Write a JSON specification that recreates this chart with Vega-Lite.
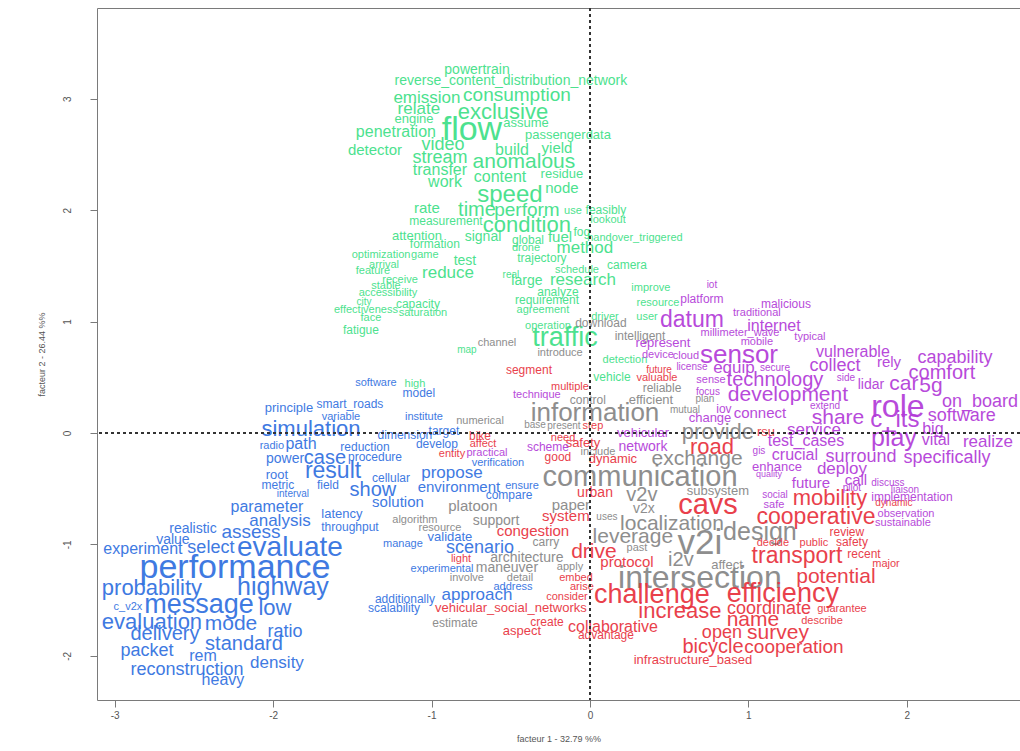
{
  "$schema": "https://vega.github.io/schema/vega-lite/v6.json",
  "width": 923,
  "height": 692,
  "autosize": {"type": "none"},
  "padding": {"left": 97, "top": 8, "right": 0, "bottom": 51},
  "background": "white",
  "config": {
    "view": {"stroke": "#7a7a7a", "strokeWidth": 1},
    "axis": {"grid": false, "domain": false, "labelFont": "Liberation Sans", "titleFont": "Liberation Sans", "labelColor": "#555555", "titleColor": "#555555", "tickColor": "#7a7a7a", "labelFontSize": 10, "titleFontSize": 9, "titleFontWeight": "normal", "tickSize": 7}
  },
  "data": {"values": [
    {"w":"powertrain","x":-0.713,"y":3.259,"s":14,"c":"g"},
    {"w":"reverse_content_distribution_network","x":-0.499,"y":3.160,"s":14,"c":"g"},
    {"w":"emission","x":-1.029,"y":3.007,"s":17,"c":"g"},
    {"w":"consumption","x":-0.461,"y":3.034,"s":19,"c":"g"},
    {"w":"relate","x":-1.080,"y":2.908,"s":17,"c":"g"},
    {"w":"exclusive","x":-0.549,"y":2.882,"s":22,"c":"g"},
    {"w":"engine","x":-1.111,"y":2.819,"s":13,"c":"g"},
    {"w":"flow","x":-0.745,"y":2.720,"s":34,"c":"g"},
    {"w":"assume","x":-0.404,"y":2.783,"s":13,"c":"g"},
    {"w":"penetration","x":-1.225,"y":2.702,"s":16,"c":"g"},
    {"w":"passengerdata","x":-0.139,"y":2.675,"s":13,"c":"g"},
    {"w":"detector","x":-1.357,"y":2.540,"s":15,"c":"g"},
    {"w":"video","x":-0.928,"y":2.585,"s":18,"c":"g"},
    {"w":"build","x":-0.492,"y":2.540,"s":16,"c":"g"},
    {"w":"yield","x":-0.208,"y":2.558,"s":15,"c":"g"},
    {"w":"stream","x":-0.947,"y":2.469,"s":18,"c":"g"},
    {"w":"anomalous","x":-0.417,"y":2.433,"s":21,"c":"g"},
    {"w":"transfer","x":-0.947,"y":2.361,"s":16,"c":"g"},
    {"w":"content","x":-0.568,"y":2.298,"s":16,"c":"g"},
    {"w":"residue","x":-0.177,"y":2.325,"s":13,"c":"g"},
    {"w":"work","x":-0.915,"y":2.253,"s":16,"c":"g"},
    {"w":"node","x":-0.177,"y":2.199,"s":15,"c":"g"},
    {"w":"speed","x":-0.505,"y":2.136,"s":24,"c":"g"},
    {"w":"rate","x":-1.029,"y":2.020,"s":15,"c":"g"},
    {"w":"time","x":-0.713,"y":2.002,"s":20,"c":"g"},
    {"w":"perform","x":-0.398,"y":2.002,"s":19,"c":"g"},
    {"w":"use","x":-0.107,"y":1.993,"s":11,"c":"g"},
    {"w":"feasibly","x":0.101,"y":2.002,"s":12,"c":"g"},
    {"w":"measurement","x":-0.909,"y":1.903,"s":12,"c":"g"},
    {"w":"condition","x":-0.398,"y":1.867,"s":22,"c":"g"},
    {"w":"lookout","x":0.114,"y":1.912,"s":11,"c":"g"},
    {"w":"attention","x":-1.092,"y":1.768,"s":13,"c":"g"},
    {"w":"signal","x":-0.675,"y":1.759,"s":14,"c":"g"},
    {"w":"global","x":-0.391,"y":1.733,"s":12,"c":"g"},
    {"w":"fuel","x":-0.189,"y":1.759,"s":15,"c":"g"},
    {"w":"fog","x":-0.051,"y":1.804,"s":12,"c":"g"},
    {"w":"handover_triggered","x":0.284,"y":1.750,"s":11,"c":"g"},
    {"w":"formation","x":-0.979,"y":1.697,"s":12,"c":"g"},
    {"w":"drone","x":-0.404,"y":1.661,"s":11,"c":"g"},
    {"w":"method","x":-0.032,"y":1.661,"s":17,"c":"g"},
    {"w":"optimization","x":-1.319,"y":1.598,"s":11,"c":"g"},
    {"w":"game","x":-1.042,"y":1.598,"s":11,"c":"g"},
    {"w":"test","x":-0.789,"y":1.544,"s":14,"c":"g"},
    {"w":"trajectory","x":-0.303,"y":1.571,"s":12,"c":"g"},
    {"w":"arrival","x":-1.300,"y":1.508,"s":11,"c":"g"},
    {"w":"feature","x":-1.370,"y":1.454,"s":11,"c":"g"},
    {"w":"reduce","x":-0.896,"y":1.436,"s":17,"c":"g"},
    {"w":"camera","x":0.234,"y":1.508,"s":12,"c":"g"},
    {"w":"schedule","x":-0.082,"y":1.463,"s":11,"c":"g"},
    {"w":"real","x":-0.499,"y":1.418,"s":10,"c":"g"},
    {"w":"receive","x":-1.199,"y":1.373,"s":11,"c":"g"},
    {"w":"large","x":-0.398,"y":1.364,"s":14,"c":"g"},
    {"w":"research","x":-0.044,"y":1.373,"s":17,"c":"g"},
    {"w":"stable","x":-1.288,"y":1.320,"s":11,"c":"g"},
    {"w":"accessibility","x":-1.275,"y":1.257,"s":11,"c":"g"},
    {"w":"analyze","x":-0.202,"y":1.266,"s":12,"c":"g"},
    {"w":"requirement","x":-0.271,"y":1.194,"s":12,"c":"g"},
    {"w":"city","x":-1.427,"y":1.176,"s":10,"c":"g"},
    {"w":"capacity","x":-1.086,"y":1.158,"s":12,"c":"g"},
    {"w":"effectiveness","x":-1.414,"y":1.104,"s":11,"c":"g"},
    {"w":"saturation","x":-1.054,"y":1.077,"s":11,"c":"g"},
    {"w":"agreement","x":-0.297,"y":1.104,"s":11,"c":"g"},
    {"w":"face","x":-1.383,"y":1.032,"s":11,"c":"g"},
    {"w":"fatigue","x":-1.446,"y":0.925,"s":12,"c":"g"},
    {"w":"driver","x":0.095,"y":1.041,"s":11,"c":"g"},
    {"w":"user","x":0.360,"y":1.041,"s":11,"c":"g"},
    {"w":"operation","x":-0.265,"y":0.961,"s":11,"c":"g"},
    {"w":"traffic","x":-0.158,"y":0.853,"s":27,"c":"g"},
    {"w":"map","x":-0.777,"y":0.745,"s":10,"c":"g"},
    {"w":"detection","x":0.221,"y":0.655,"s":11,"c":"g"},
    {"w":"vehicle","x":0.139,"y":0.503,"s":12,"c":"g"},
    {"w":"improve","x":0.385,"y":1.302,"s":11,"c":"g"},
    {"w":"resource","x":0.429,"y":1.167,"s":11,"c":"g"},
    {"w":"high","x":-1.105,"y":0.440,"s":11,"c":"g"},

    {"w":"download","x":0.069,"y":0.987,"s":12,"c":"k"},
    {"w":"intelligent","x":0.316,"y":0.871,"s":12,"c":"k"},
    {"w":"channel","x":-0.587,"y":0.808,"s":11,"c":"k"},
    {"w":"introduce","x":-0.189,"y":0.718,"s":11,"c":"k"},
    {"w":"reliable","x":0.455,"y":0.404,"s":12,"c":"k"},
    {"w":"control","x":-0.013,"y":0.296,"s":12,"c":"k"},
    {"w":"efficient","x":0.385,"y":0.296,"s":13,"c":"k"},
    {"w":"mutual","x":0.600,"y":0.206,"s":10,"c":"k"},
    {"w":"plan","x":0.726,"y":0.305,"s":10,"c":"k"},
    {"w":"information","x":0.032,"y":0.180,"s":26,"c":"k"},
    {"w":"present","x":-0.164,"y":0.063,"s":10,"c":"k"},
    {"w":"base","x":-0.347,"y":0.072,"s":10,"c":"k"},
    {"w":"numerical","x":-0.694,"y":0.108,"s":11,"c":"k"},
    {"w":"include","x":0.051,"y":-0.171,"s":11,"c":"k"},
    {"w":"provide","x":0.808,"y":0.009,"s":22,"c":"k"},
    {"w":"exchange","x":0.676,"y":-0.233,"s":21,"c":"k"},
    {"w":"communication","x":0.316,"y":-0.395,"s":29,"c":"k"},
    {"w":"subsystem","x":0.808,"y":-0.521,"s":13,"c":"k"},
    {"w":"v2v","x":0.328,"y":-0.557,"s":20,"c":"k"},
    {"w":"v2x","x":0.341,"y":-0.682,"s":14,"c":"k"},
    {"w":"paper","x":-0.120,"y":-0.646,"s":15,"c":"k"},
    {"w":"uses","x":0.107,"y":-0.754,"s":10,"c":"k"},
    {"w":"localization","x":0.518,"y":-0.817,"s":21,"c":"k"},
    {"w":"leverage","x":0.271,"y":-0.934,"s":21,"c":"k"},
    {"w":"design","x":1.073,"y":-0.889,"s":25,"c":"k"},
    {"w":"v2i","x":0.694,"y":-0.987,"s":35,"c":"k"},
    {"w":"past","x":0.297,"y":-1.032,"s":11,"c":"k"},
    {"w":"i2v","x":0.574,"y":-1.140,"s":20,"c":"k"},
    {"w":"affect","x":0.865,"y":-1.185,"s":13,"c":"k"},
    {"w":"intersection","x":0.694,"y":-1.302,"s":32,"c":"k"},
    {"w":"platoon","x":-0.739,"y":-0.655,"s":15,"c":"k"},
    {"w":"algorithm","x":-1.105,"y":-0.781,"s":11,"c":"k"},
    {"w":"support","x":-0.593,"y":-0.790,"s":14,"c":"k"},
    {"w":"resource","x":-0.947,"y":-0.853,"s":11,"c":"k"},
    {"w":"carry","x":-0.278,"y":-0.978,"s":12,"c":"k"},
    {"w":"architecture","x":-0.398,"y":-1.122,"s":14,"c":"k"},
    {"w":"maneuver","x":-0.524,"y":-1.212,"s":14,"c":"k"},
    {"w":"apply","x":-0.126,"y":-1.203,"s":11,"c":"k"},
    {"w":"involve","x":-0.777,"y":-1.302,"s":11,"c":"k"},
    {"w":"detail","x":-0.442,"y":-1.302,"s":11,"c":"k"},
    {"w":"estimate","x":-0.852,"y":-1.706,"s":12,"c":"k"},

    {"w":"segment","x":-0.385,"y":0.566,"s":12,"c":"r"},
    {"w":"multiple","x":-0.126,"y":0.413,"s":11,"c":"r"},
    {"w":"future","x":0.436,"y":0.566,"s":10,"c":"r"},
    {"w":"valuable","x":0.423,"y":0.494,"s":11,"c":"r"},
    {"w":"step","x":0.019,"y":0.063,"s":11,"c":"r"},
    {"w":"need","x":-0.170,"y":-0.045,"s":11,"c":"r"},
    {"w":"safety","x":-0.044,"y":-0.090,"s":13,"c":"r"},
    {"w":"good","x":-0.202,"y":-0.215,"s":12,"c":"r"},
    {"w":"dynamic","x":0.145,"y":-0.233,"s":13,"c":"r"},
    {"w":"rsu","x":1.111,"y":0.009,"s":13,"c":"r"},
    {"w":"road","x":0.770,"y":-0.126,"s":22,"c":"r"},
    {"w":"bike","x":-0.694,"y":-0.027,"s":12,"c":"r"},
    {"w":"affect","x":-0.675,"y":-0.099,"s":11,"c":"r"},
    {"w":"entity","x":-0.871,"y":-0.189,"s":11,"c":"r"},
    {"w":"urban","x":0.032,"y":-0.539,"s":14,"c":"r"},
    {"w":"system","x":-0.152,"y":-0.745,"s":15,"c":"r"},
    {"w":"cavs","x":0.745,"y":-0.646,"s":29,"c":"r"},
    {"w":"mobility","x":1.515,"y":-0.583,"s":22,"c":"r"},
    {"w":"dynamic","x":1.919,"y":-0.628,"s":10,"c":"r"},
    {"w":"cooperative","x":1.427,"y":-0.754,"s":23,"c":"r"},
    {"w":"congestion","x":-0.360,"y":-0.880,"s":15,"c":"r"},
    {"w":"drive","x":0.025,"y":-1.068,"s":21,"c":"r"},
    {"w":"protocol","x":0.234,"y":-1.158,"s":15,"c":"r"},
    {"w":"decide","x":1.155,"y":-0.987,"s":11,"c":"r"},
    {"w":"public","x":1.414,"y":-0.987,"s":11,"c":"r"},
    {"w":"safety","x":1.654,"y":-0.978,"s":12,"c":"r"},
    {"w":"transport","x":1.307,"y":-1.104,"s":23,"c":"r"},
    {"w":"recent","x":1.730,"y":-1.086,"s":12,"c":"r"},
    {"w":"major","x":1.869,"y":-1.176,"s":11,"c":"r"},
    {"w":"potential","x":1.553,"y":-1.293,"s":21,"c":"r"},
    {"w":"challenge","x":0.391,"y":-1.454,"s":27,"c":"r"},
    {"w":"efficiency","x":1.218,"y":-1.445,"s":27,"c":"r"},
    {"w":"increase","x":0.568,"y":-1.598,"s":22,"c":"r"},
    {"w":"coordinate","x":1.130,"y":-1.580,"s":18,"c":"r"},
    {"w":"guarantee","x":1.591,"y":-1.580,"s":11,"c":"r"},
    {"w":"name","x":1.029,"y":-1.679,"s":21,"c":"r"},
    {"w":"describe","x":1.465,"y":-1.688,"s":11,"c":"r"},
    {"w":"collaborative","x":0.145,"y":-1.741,"s":16,"c":"r"},
    {"w":"advantage","x":0.101,"y":-1.813,"s":12,"c":"r"},
    {"w":"open","x":0.833,"y":-1.795,"s":18,"c":"r"},
    {"w":"survey","x":1.187,"y":-1.795,"s":21,"c":"r"},
    {"w":"bicycle","x":0.777,"y":-1.921,"s":20,"c":"r"},
    {"w":"cooperation","x":1.288,"y":-1.921,"s":19,"c":"r"},
    {"w":"infrastructure_based","x":0.650,"y":-2.038,"s":13,"c":"r"},
    {"w":"light","x":-0.814,"y":-1.131,"s":11,"c":"r"},
    {"w":"embed","x":-0.088,"y":-1.302,"s":11,"c":"r"},
    {"w":"arise","x":-0.051,"y":-1.382,"s":11,"c":"r"},
    {"w":"consider","x":-0.145,"y":-1.472,"s":11,"c":"r"},
    {"w":"vehicular_social_networks","x":-0.499,"y":-1.571,"s":13,"c":"r"},
    {"w":"create","x":-0.271,"y":-1.697,"s":12,"c":"r"},
    {"w":"aspect","x":-0.429,"y":-1.777,"s":13,"c":"r"},
    {"w":"review","x":1.622,"y":-0.889,"s":12,"c":"r"},

    {"w":"iot","x":0.770,"y":1.329,"s":10,"c":"p"},
    {"w":"platform","x":0.707,"y":1.203,"s":12,"c":"p"},
    {"w":"malicious","x":1.237,"y":1.158,"s":12,"c":"p"},
    {"w":"traditional","x":1.054,"y":1.077,"s":11,"c":"p"},
    {"w":"datum","x":0.644,"y":1.014,"s":23,"c":"p"},
    {"w":"internet","x":1.162,"y":0.961,"s":16,"c":"p"},
    {"w":"millimeter_wave","x":0.947,"y":0.898,"s":11,"c":"p"},
    {"w":"typical","x":1.389,"y":0.862,"s":11,"c":"p"},
    {"w":"represent","x":0.461,"y":0.808,"s":13,"c":"p"},
    {"w":"mobile","x":1.054,"y":0.817,"s":11,"c":"p"},
    {"w":"sensor","x":0.941,"y":0.700,"s":26,"c":"p"},
    {"w":"device","x":0.429,"y":0.700,"s":11,"c":"p"},
    {"w":"cloud","x":0.606,"y":0.691,"s":11,"c":"p"},
    {"w":"vulnerable","x":1.660,"y":0.727,"s":16,"c":"p"},
    {"w":"capability","x":2.304,"y":0.673,"s":18,"c":"p"},
    {"w":"license","x":0.644,"y":0.592,"s":10,"c":"p"},
    {"w":"equip","x":0.909,"y":0.583,"s":17,"c":"p"},
    {"w":"secure","x":1.168,"y":0.583,"s":10,"c":"p"},
    {"w":"collect","x":1.547,"y":0.601,"s":18,"c":"p"},
    {"w":"rely","x":1.888,"y":0.637,"s":15,"c":"p"},
    {"w":"comfort","x":2.222,"y":0.539,"s":20,"c":"p"},
    {"w":"sense","x":0.764,"y":0.476,"s":11,"c":"p"},
    {"w":"technology","x":1.168,"y":0.476,"s":20,"c":"p"},
    {"w":"side","x":1.616,"y":0.494,"s":10,"c":"p"},
    {"w":"lidar","x":1.774,"y":0.431,"s":14,"c":"p"},
    {"w":"car","x":1.982,"y":0.440,"s":21,"c":"p"},
    {"w":"5g","x":2.153,"y":0.422,"s":21,"c":"p"},
    {"w":"focus","x":0.745,"y":0.368,"s":10,"c":"p"},
    {"w":"development","x":1.250,"y":0.341,"s":21,"c":"p"},
    {"w":"on_board","x":2.462,"y":0.278,"s":18,"c":"p"},
    {"w":"role","x":1.944,"y":0.233,"s":32,"c":"p"},
    {"w":"software","x":2.348,"y":0.153,"s":18,"c":"p"},
    {"w":"c_its","x":1.925,"y":0.117,"s":24,"c":"p"},
    {"w":"share","x":1.566,"y":0.135,"s":21,"c":"p"},
    {"w":"extend","x":1.484,"y":0.242,"s":10,"c":"p"},
    {"w":"iov","x":0.846,"y":0.215,"s":12,"c":"p"},
    {"w":"change","x":0.758,"y":0.135,"s":13,"c":"p"},
    {"w":"connect","x":1.073,"y":0.180,"s":15,"c":"p"},
    {"w":"big","x":2.165,"y":0.036,"s":16,"c":"p"},
    {"w":"play","x":1.919,"y":-0.045,"s":25,"c":"p"},
    {"w":"vital","x":2.184,"y":-0.063,"s":16,"c":"p"},
    {"w":"realize","x":2.513,"y":-0.081,"s":17,"c":"p"},
    {"w":"service","x":1.414,"y":0.027,"s":17,"c":"p"},
    {"w":"test_cases","x":1.364,"y":-0.072,"s":16,"c":"p"},
    {"w":"vehicular","x":0.335,"y":0.000,"s":13,"c":"p"},
    {"w":"network","x":0.335,"y":-0.126,"s":14,"c":"p"},
    {"w":"scheme","x":-0.265,"y":-0.126,"s":12,"c":"p"},
    {"w":"technique","x":-0.335,"y":0.341,"s":11,"c":"p"},
    {"w":"crucial","x":1.294,"y":-0.197,"s":16,"c":"p"},
    {"w":"surround","x":1.711,"y":-0.215,"s":18,"c":"p"},
    {"w":"specifically","x":2.254,"y":-0.224,"s":18,"c":"p"},
    {"w":"gis","x":1.067,"y":-0.162,"s":10,"c":"p"},
    {"w":"enhance","x":1.181,"y":-0.305,"s":13,"c":"p"},
    {"w":"quality","x":1.130,"y":-0.368,"s":9,"c":"p"},
    {"w":"deploy","x":1.591,"y":-0.323,"s":17,"c":"p"},
    {"w":"future","x":1.395,"y":-0.449,"s":15,"c":"p"},
    {"w":"call","x":1.679,"y":-0.422,"s":15,"c":"p"},
    {"w":"pilot","x":1.654,"y":-0.494,"s":10,"c":"p"},
    {"w":"discuss","x":1.881,"y":-0.449,"s":10,"c":"p"},
    {"w":"social","x":1.168,"y":-0.557,"s":10,"c":"p"},
    {"w":"liaison","x":1.989,"y":-0.512,"s":10,"c":"p"},
    {"w":"implementation","x":2.033,"y":-0.575,"s":12,"c":"p"},
    {"w":"safe","x":1.162,"y":-0.646,"s":11,"c":"p"},
    {"w":"observation","x":1.995,"y":-0.727,"s":11,"c":"p"},
    {"w":"sustainable","x":1.976,"y":-0.808,"s":11,"c":"p"},
    {"w":"practical","x":-0.650,"y":-0.180,"s":11,"c":"p"},

    {"w":"software","x":-1.351,"y":0.449,"s":11,"c":"b"},
    {"w":"model","x":-1.080,"y":0.359,"s":12,"c":"b"},
    {"w":"principle","x":-1.900,"y":0.224,"s":13,"c":"b"},
    {"w":"smart_roads","x":-1.515,"y":0.260,"s":12,"c":"b"},
    {"w":"variable","x":-1.572,"y":0.144,"s":11,"c":"b"},
    {"w":"institute","x":-1.048,"y":0.144,"s":11,"c":"b"},
    {"w":"simulation","x":-1.761,"y":0.036,"s":22,"c":"b"},
    {"w":"dimension","x":-1.168,"y":-0.018,"s":12,"c":"b"},
    {"w":"target","x":-0.922,"y":0.018,"s":12,"c":"b"},
    {"w":"radio","x":-2.008,"y":-0.117,"s":11,"c":"b"},
    {"w":"path","x":-1.824,"y":-0.099,"s":16,"c":"b"},
    {"w":"reduction","x":-1.420,"y":-0.126,"s":12,"c":"b"},
    {"w":"develop","x":-0.966,"y":-0.099,"s":12,"c":"b"},
    {"w":"power","x":-1.925,"y":-0.233,"s":14,"c":"b"},
    {"w":"case","x":-1.673,"y":-0.224,"s":20,"c":"b"},
    {"w":"procedure","x":-1.357,"y":-0.215,"s":12,"c":"b"},
    {"w":"result","x":-1.622,"y":-0.341,"s":23,"c":"b"},
    {"w":"root","x":-1.976,"y":-0.377,"s":13,"c":"b"},
    {"w":"cellular","x":-1.256,"y":-0.404,"s":12,"c":"b"},
    {"w":"propose","x":-0.871,"y":-0.359,"s":17,"c":"b"},
    {"w":"metric","x":-1.970,"y":-0.467,"s":12,"c":"b"},
    {"w":"field","x":-1.654,"y":-0.467,"s":12,"c":"b"},
    {"w":"show","x":-1.370,"y":-0.512,"s":20,"c":"b"},
    {"w":"environment","x":-0.827,"y":-0.485,"s":15,"c":"b"},
    {"w":"verification","x":-0.581,"y":-0.269,"s":11,"c":"b"},
    {"w":"ensure","x":-0.429,"y":-0.476,"s":11,"c":"b"},
    {"w":"compare","x":-0.511,"y":-0.557,"s":12,"c":"b"},
    {"w":"interval","x":-1.875,"y":-0.548,"s":10,"c":"b"},
    {"w":"solution","x":-1.212,"y":-0.619,"s":15,"c":"b"},
    {"w":"parameter","x":-2.039,"y":-0.664,"s":16,"c":"b"},
    {"w":"latency","x":-1.566,"y":-0.727,"s":13,"c":"b"},
    {"w":"throughput","x":-1.515,"y":-0.844,"s":12,"c":"b"},
    {"w":"analysis","x":-1.957,"y":-0.790,"s":17,"c":"b"},
    {"w":"realistic","x":-2.506,"y":-0.862,"s":14,"c":"b"},
    {"w":"assess","x":-2.140,"y":-0.889,"s":19,"c":"b"},
    {"w":"value","x":-2.633,"y":-0.960,"s":14,"c":"b"},
    {"w":"experiment","x":-2.822,"y":-1.041,"s":16,"c":"b"},
    {"w":"select","x":-2.393,"y":-1.032,"s":18,"c":"b"},
    {"w":"evaluate","x":-1.894,"y":-1.032,"s":28,"c":"b"},
    {"w":"performance","x":-2.241,"y":-1.212,"s":34,"c":"b"},
    {"w":"probability","x":-2.765,"y":-1.391,"s":22,"c":"b"},
    {"w":"highway","x":-1.938,"y":-1.382,"s":25,"c":"b"},
    {"w":"c_v2x","x":-2.917,"y":-1.562,"s":11,"c":"b"},
    {"w":"message","x":-2.468,"y":-1.544,"s":27,"c":"b"},
    {"w":"low","x":-1.989,"y":-1.571,"s":22,"c":"b"},
    {"w":"evaluation","x":-2.765,"y":-1.697,"s":22,"c":"b"},
    {"w":"mode","x":-2.266,"y":-1.715,"s":21,"c":"b"},
    {"w":"ratio","x":-1.925,"y":-1.786,"s":18,"c":"b"},
    {"w":"delivery","x":-2.683,"y":-1.804,"s":20,"c":"b"},
    {"w":"standard","x":-2.184,"y":-1.894,"s":20,"c":"b"},
    {"w":"packet","x":-2.797,"y":-1.957,"s":18,"c":"b"},
    {"w":"rem","x":-2.443,"y":-2.002,"s":16,"c":"b"},
    {"w":"density","x":-1.976,"y":-2.065,"s":17,"c":"b"},
    {"w":"reconstruction","x":-2.544,"y":-2.127,"s":18,"c":"b"},
    {"w":"heavy","x":-2.317,"y":-2.217,"s":16,"c":"b"},
    {"w":"validate","x":-0.884,"y":-0.934,"s":13,"c":"b"},
    {"w":"manage","x":-1.181,"y":-0.996,"s":11,"c":"b"},
    {"w":"scenario","x":-0.694,"y":-1.032,"s":18,"c":"b"},
    {"w":"experimental","x":-0.934,"y":-1.221,"s":11,"c":"b"},
    {"w":"address","x":-0.486,"y":-1.382,"s":11,"c":"b"},
    {"w":"approach","x":-0.713,"y":-1.454,"s":17,"c":"b"},
    {"w":"additionally","x":-1.168,"y":-1.490,"s":12,"c":"b"},
    {"w":"scalability","x":-1.237,"y":-1.571,"s":12,"c":"b"}
  ]},
  "layer": [
    {
      "mark": {"type": "text", "font": "Liberation Sans", "align": "center", "baseline": "middle", "opacity": 0.92},
      "encoding": {
        "x": {"field": "x", "type": "quantitative", "scale": {"domain": [-3.112, 2.715], "nice": false, "zero": false},
              "axis": {"values": [-3, -2, -1, 0, 1, 2], "labelExpr": "'' + datum.value", "title": "facteur 1 - 32.79 %%", "labelPadding": 3, "titlePadding": 14}},
        "y": {"field": "y", "type": "quantitative", "scale": {"domain": [-2.397, 3.815], "nice": false, "zero": false},
              "axis": {"values": [-2, -1, 0, 1, 2, 3], "labelExpr": "'' + datum.value", "title": "facteur 2 - 26.44 %%", "labelAngle": -90, "labelAlign": "center", "labelBaseline": "bottom", "labelPadding": 18, "titlePadding": 16}},
        "text": {"field": "w", "type": "nominal"},
        "size": {"field": "s", "type": "quantitative", "scale": {"type": "linear", "domain": [0, 40], "range": [0, 40]}, "legend": null},
        "color": {"field": "c", "type": "nominal", "scale": {"domain": ["g", "b", "k", "r", "p"], "range": ["#3ddf86", "#2f6fdf", "#858585", "#e8303c", "#b23ad8"]}, "legend": null}
      }
    },
    {
      "mark": {"type": "rule", "strokeDash": [3, 3], "color": "#333333", "strokeWidth": 1},
      "encoding": {"x": {"datum": 0}}
    },
    {
      "mark": {"type": "rule", "strokeDash": [3, 3], "color": "#333333", "strokeWidth": 1},
      "encoding": {"y": {"datum": 0}}
    }
  ]
}
